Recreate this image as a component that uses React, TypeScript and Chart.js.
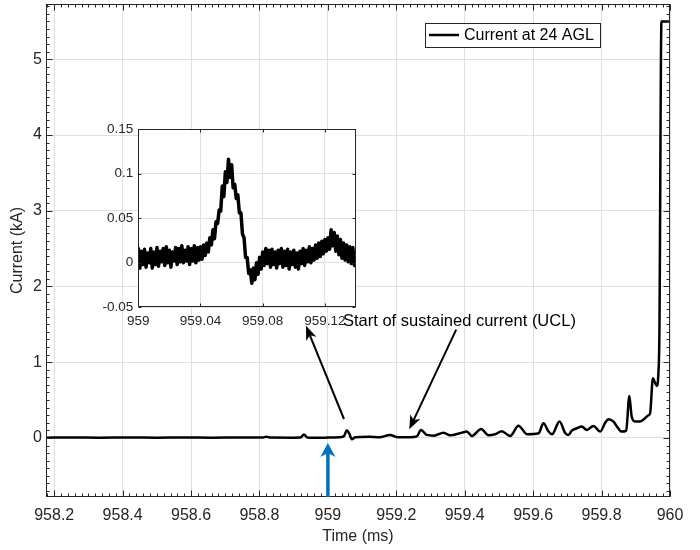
import React, { useEffect, useRef } from "react";
import { Chart, registerables } from "chart.js";

Chart.register(...registerables);

// ---------------- data ----------------
const SERIES_LABEL = "Current at 24 AGL";
const X_TITLE = "Time (ms)";
const Y_TITLE = "Current (kA)";

const MAIN_TIME = [
  958.176, 958.25, 958.33, 958.42, 958.5, 958.58, 958.66, 958.74, 958.81, 958.82,
  958.83, 958.9, 958.92, 958.93, 958.94, 958.98, 959.0, 959.04, 959.048, 959.055,
  959.062, 959.07, 959.08, 959.12, 959.15, 959.182, 959.2, 959.24, 959.26, 959.272,
  959.289, 959.31, 959.338, 959.357, 959.392, 959.406, 959.421, 959.448, 959.469, 959.49,
  959.508, 959.533, 959.557, 959.582, 959.616, 959.63, 959.645, 959.655, 959.677, 959.694,
  959.703, 959.713, 959.728, 959.742, 959.757, 959.776, 959.796, 959.811, 959.82, 959.835,
  959.845, 959.859, 959.872, 959.881, 959.888, 959.898, 959.913, 959.927, 959.937, 959.942,
  959.95, 959.957, 959.962, 959.966, 959.969, 959.975, 960.0,
];
const MAIN_CURRENT = [
  0.004, 0.006, 0.003, 0.006, 0.004, 0.007, 0.004, 0.006, 0.005, 0.016,
  0.005, 0.004, 0.006, 0.045, 0.006, 0.002, 0.005, 0.012, 0.03, 0.1,
  0.06, -0.017, 0.008, 0.015, 0.008, 0.04, 0.012, 0.008, 0.02, 0.106,
  0.04, 0.03, 0.07, 0.035, 0.07, 0.084, 0.026, 0.119, 0.035, 0.05,
  0.088, 0.026, 0.162, 0.05, 0.062, 0.194, 0.084, 0.048, 0.216, 0.062,
  0.04, 0.097, 0.128, 0.15, 0.106, 0.159, 0.084, 0.203, 0.247, 0.216,
  0.15, 0.084, 0.097, 0.555, 0.282, 0.216, 0.216, 0.26, 0.3, 0.33,
  0.788, 0.72, 0.687, 0.85, 1.38, 5.5, 5.5,
];
const X_TICKS = [958.2, 958.4, 958.6, 958.8, 959, 959.2, 959.4, 959.6, 959.8, 960];
const Y_TICKS = [0, 1, 2, 3, 4, 5];
const X_RANGE = [958.176, 960];
const Y_RANGE = [-0.78, 5.73];
const X_MINOR_STEP = 0.02;
const Y_MINOR_STEP = 0.1;

// inset: sampled record starting at INSET_T0 with sample interval INSET_DT
const INSET_T0 = 959;
const INSET_DT = 0.001;
const INSET_CURRENT = [
  0.016, -0.006, 0.013, -0.002, 0.015, -0.005, 0.011, 0.000, 0.016, -0.006,
  0.012, -0.002, 0.017, -0.004, 0.013, 0.001, 0.016, -0.003, 0.018, 0.000,
  0.014, -0.005, 0.012, 0.002, 0.017, -0.002, 0.016, 0.001, 0.019, 0.000,
  0.014, 0.002, 0.018, -0.002, 0.016, 0.002, 0.019, 0.000, 0.017, 0.003,
  0.018, 0.004, 0.020, 0.008, 0.022, 0.012, 0.028, 0.020, 0.037, 0.027,
  0.046, 0.044, 0.059, 0.058, 0.086, 0.074, 0.102, 0.090, 0.116, 0.096,
  0.110, 0.084, 0.088, 0.072, 0.076, 0.056, 0.056, 0.032, 0.028, 0.006,
  0.006, -0.012, -0.008, -0.023, -0.006, -0.019, 0.000, -0.013, 0.006, -0.007,
  0.012, -0.003, 0.016, -0.001, 0.014, -0.005, 0.015, -0.002, 0.012, -0.006,
  0.014, -0.001, 0.016, -0.005, 0.013, -0.003, 0.015, -0.007, 0.012, -0.002,
  0.014, -0.005, 0.011, -0.007, 0.013, -0.001, 0.016, -0.003, 0.014, 0.001,
  0.018, 0.000, 0.016, 0.003, 0.020, 0.005, 0.022, 0.007, 0.024, 0.010,
  0.026, 0.013, 0.028, 0.015, 0.037, 0.019, 0.034, 0.013, 0.030, 0.009,
  0.026, 0.005, 0.022, 0.003, 0.020, 0.001, 0.018, -0.001, 0.017, -0.003,
  0.012,
];
const INSET_X_TICKS = [959, 959.04, 959.08, 959.12];
const INSET_Y_TICKS = [-0.05, 0, 0.05, 0.1, 0.15];
const INSET_X_RANGE = [959, 959.14];
const INSET_Y_RANGE = [-0.05, 0.15];

// annotations (data coordinates of the main axes)
const NOTE_TEXT = "Start of sustained current (UCL)";
const NOTE_POS = [959.044, 1.536];
const BLACK_ARROWS = [
  [959.047, 0.25, 958.936, 1.48],
  [959.375, 1.43, 959.238, 0.115],
];
const BLUE_ARROW = [959.0, -0.78, 959.0, -0.066];

// ---------------- styles ----------------
const FONT = '"Liberation Sans", Arial, Helvetica, sans-serif';
const AXIS_COLOR = "#262626";
const GRID_COLOR = "#e0e0e0";
const BLUE = "#0072BD";

const fmt = (v: number) => String(parseFloat(Number(v).toFixed(4)));

function drawArrow(ctx: CanvasRenderingContext2D, x1: number, y1: number, x2: number, y2: number,
  color: string, lw: number, headLen: number, headW: number) {
  const dx = x2 - x1, dy = y2 - y1;
  const len = Math.hypot(dx, dy);
  const ux = dx / len, uy = dy / len;
  const px = -uy, py = ux;
  const notch = headLen * 0.72;
  ctx.save();
  ctx.strokeStyle = color;
  ctx.fillStyle = color;
  ctx.lineWidth = lw;
  ctx.beginPath();
  ctx.moveTo(x1, y1);
  ctx.lineTo(x2 - ux * notch, y2 - uy * notch);
  ctx.stroke();
  ctx.beginPath();
  ctx.moveTo(x2, y2);
  ctx.lineTo(x2 - ux * headLen + px * headW / 2, y2 - uy * headLen + py * headW / 2);
  ctx.lineTo(x2 - ux * notch, y2 - uy * notch);
  ctx.lineTo(x2 - ux * headLen - px * headW / 2, y2 - uy * headLen - py * headW / 2);
  ctx.closePath();
  ctx.fill();
  ctx.restore();
}

function drawFrame(chart: any, xTicks: number[], yTicks: number[], majorLen: number,
  minorLen: number, xMinor: number, yMinor: number) {
  const { ctx, chartArea: a, scales } = chart;
  const xs = scales.x, ys = scales.y;
  const L = Math.round(a.left) + 0.5, R = Math.round(a.right) - 0.5;
  const T = Math.round(a.top) + 0.5, B = Math.round(a.bottom) - 0.5;
  ctx.save();
  ctx.strokeStyle = AXIS_COLOR;
  ctx.lineWidth = 1;
  ctx.beginPath();
  const tickX = (v: number, len: number) => {
    const p = Math.round(xs.getPixelForValue(v)) + 0.5;
    ctx.moveTo(p, B); ctx.lineTo(p, B - len);
    ctx.moveTo(p, T); ctx.lineTo(p, T + len);
  };
  const tickY = (v: number, len: number) => {
    const p = Math.round(ys.getPixelForValue(v)) + 0.5;
    ctx.moveTo(L, p); ctx.lineTo(L + len, p);
    ctx.moveTo(R, p); ctx.lineTo(R - len, p);
  };
  if (xMinor > 0) {
    for (let k = Math.ceil(xs.min / xMinor - 1e-9); k * xMinor <= xs.max + 1e-9; k++) tickX(k * xMinor, minorLen);
  }
  if (yMinor > 0) {
    for (let k = Math.ceil(ys.min / yMinor - 1e-9); k * yMinor <= ys.max + 1e-9; k++) tickY(k * yMinor, minorLen);
  }
  xTicks.forEach((v) => tickX(v, majorLen));
  yTicks.forEach((v) => tickY(v, majorLen));
  ctx.stroke();
  ctx.strokeRect(L, T, R - L, B - T);
  ctx.restore();
}

const mainDecor = {
  id: "mainDecor",
  afterDatasetsDraw(chart: any) {
    const { ctx, chartArea: a, scales } = chart;
    const xs = scales.x, ys = scales.y;
    drawFrame(chart, X_TICKS, Y_TICKS, 6, 3, X_MINOR_STEP, Y_MINOR_STEP);

    // legend
    ctx.save();
    ctx.font = `16px ${FONT}`;
    const label = chart.data.datasets[0].label;
    const tw = ctx.measureText(label).width;
    const right = Math.round(a.right - 70);
    const top = Math.round(a.top + 19);
    const h = 24;
    const left = Math.round(right - (39 + tw + 6));
    ctx.fillStyle = "#fff";
    ctx.fillRect(left, top, right - left, h);
    ctx.strokeStyle = AXIS_COLOR;
    ctx.lineWidth = 1;
    ctx.strokeRect(left + 0.5, top + 0.5, right - left, h);
    ctx.strokeStyle = "#000";
    ctx.lineWidth = 2.5;
    ctx.beginPath();
    ctx.moveTo(left + 4, top + h / 2);
    ctx.lineTo(left + 34, top + h / 2);
    ctx.stroke();
    ctx.fillStyle = "#000";
    ctx.textAlign = "left";
    ctx.textBaseline = "middle";
    ctx.fillText(label, left + 39, top + h / 2 + 1);

    // note text
    ctx.font = `16.5px ${FONT}`;
    ctx.fillText(NOTE_TEXT, xs.getPixelForValue(NOTE_POS[0]), ys.getPixelForValue(NOTE_POS[1]));
    ctx.restore();

    // arrows
    BLACK_ARROWS.forEach(([t1, v1, t2, v2]) => {
      drawArrow(ctx, xs.getPixelForValue(t1), ys.getPixelForValue(v1),
        xs.getPixelForValue(t2), ys.getPixelForValue(v2), "#000", 2, 14, 11);
    });
    const [bt1, bv1, bt2, bv2] = BLUE_ARROW;
    drawArrow(ctx, xs.getPixelForValue(bt1), ys.getPixelForValue(bv1),
      xs.getPixelForValue(bt2), ys.getPixelForValue(bv2), BLUE, 3.5, 14, 15);
  },
};

const insetDecor = {
  id: "insetDecor",
  beforeDraw(chart: any) {
    const { ctx, chartArea: a } = chart;
    ctx.save();
    ctx.fillStyle = "#fff";
    ctx.fillRect(a.left, a.top, a.right - a.left, a.bottom - a.top);
    ctx.restore();
  },
  afterDatasetsDraw(chart: any) {
    drawFrame(chart, INSET_X_TICKS, INSET_Y_TICKS, 3, 0, 0, 0);
  },
};

function scaleCommon(size: number) {
  return {
    grid: { color: GRID_COLOR, drawTicks: false, lineWidth: 1 },
    border: { display: false },
    ticks: {
      autoSkip: false, maxRotation: 0, color: AXIS_COLOR,
      font: { size, family: FONT },
      callback: (v: any) => fmt(v),
    },
  };
}

export default function App() {
  const mainRef = useRef<HTMLCanvasElement | null>(null);
  const insetRef = useRef<HTMLCanvasElement | null>(null);

  useEffect(() => {
    Chart.defaults.font.family = FONT;
    Chart.defaults.color = AXIS_COLOR;
    const xc = scaleCommon(16);
    const yc = scaleCommon(16);
    const main = new Chart(mainRef.current as HTMLCanvasElement, {
      type: "line",
      data: {
        datasets: [{
          label: SERIES_LABEL,
          data: MAIN_TIME.map((t, i) => ({ x: t, y: MAIN_CURRENT[i] })),
          borderColor: "#000",
          borderWidth: 2.5,
          borderJoinStyle: "round",
          borderCapStyle: "round",
          pointRadius: 0,
          fill: false,
          cubicInterpolationMode: "monotone",
        }],
      },
      options: {
        responsive: false,
        animation: false,
        events: [],
        layout: { padding: { left: 0, right: 30, top: 4, bottom: 0 } },
        plugins: { legend: { display: false }, tooltip: { enabled: false } },
        scales: {
          x: {
            type: "linear",
            min: X_RANGE[0],
            max: X_RANGE[1],
            ...xc,
            ticks: { ...xc.ticks, padding: 9 },
            afterBuildTicks: (s: any) => { s.ticks = X_TICKS.map((v) => ({ value: v })); },
            afterFit: (s: any) => { s.height = 53; s.paddingLeft = 0; s.paddingRight = 0; },
            title: {
              display: true, text: X_TITLE, color: AXIS_COLOR,
              font: { size: 16, family: FONT }, padding: { top: 0, bottom: 3.4 },
            },
          },
          y: {
            type: "linear",
            min: Y_RANGE[0],
            max: Y_RANGE[1],
            ...yc,
            ticks: { ...yc.ticks, padding: 4 },
            afterBuildTicks: (s: any) => { s.ticks = Y_TICKS.map((v) => ({ value: v })); },
            afterFit: (s: any) => { s.width = 46; s.paddingTop = 0; s.paddingBottom = 0; },
            title: {
              display: true, text: Y_TITLE, color: AXIS_COLOR,
              font: { size: 16, family: FONT }, padding: { top: 8.4, bottom: 0 },
            },
          },
        },
      },
      plugins: [mainDecor],
    } as any);

    const ixc = scaleCommon(13.5);
    const iyc = scaleCommon(13.5);
    const inset = new Chart(insetRef.current as HTMLCanvasElement, {
      type: "line",
      data: {
        datasets: [{
          label: SERIES_LABEL,
          data: INSET_CURRENT.map((v, i) => ({ x: INSET_T0 + i * INSET_DT, y: v })),
          borderColor: "#000",
          borderWidth: 3.5,
          borderJoinStyle: "round",
          borderCapStyle: "round",
          pointRadius: 0,
          fill: false,
          tension: 0,
        }],
      },
      options: {
        responsive: false,
        animation: false,
        events: [],
        layout: { padding: { left: 0, right: 14, top: 19, bottom: 0 } },
        plugins: { legend: { display: false }, tooltip: { enabled: false } },
        scales: {
          x: {
            type: "linear",
            min: INSET_X_RANGE[0],
            max: INSET_X_RANGE[1],
            ...ixc,
            ticks: { ...ixc.ticks, padding: 6.3 },
            afterBuildTicks: (s: any) => { s.ticks = INSET_X_TICKS.map((v) => ({ value: v })); },
            afterFit: (s: any) => { s.height = 32.7; s.paddingLeft = 0; s.paddingRight = 0; },
          },
          y: {
            type: "linear",
            min: INSET_Y_RANGE[0],
            max: INSET_Y_RANGE[1],
            ...iyc,
            ticks: { ...iyc.ticks, padding: 5 },
            afterBuildTicks: (s: any) => { s.ticks = INSET_Y_TICKS.map((v) => ({ value: v })); },
            afterFit: (s: any) => { s.width = 38.3; s.paddingTop = 0; s.paddingBottom = 0; },
          },
        },
      },
      plugins: [insetDecor],
    } as any);

    return () => {
      main.destroy();
      inset.destroy();
    };
  }, []);

  return (
    <div style={{ position: "fixed", left: 0, top: 0, width: 700, height: 550, background: "#fff" }}>
      <canvas ref={mainRef} width={700} height={550}
        style={{ position: "absolute", left: 0, top: 0, width: 700, height: 550 }} />
      <canvas ref={insetRef} width={270} height={230}
        style={{ position: "absolute", left: 100, top: 110, width: 270, height: 230 }} />
    </div>
  );
}
